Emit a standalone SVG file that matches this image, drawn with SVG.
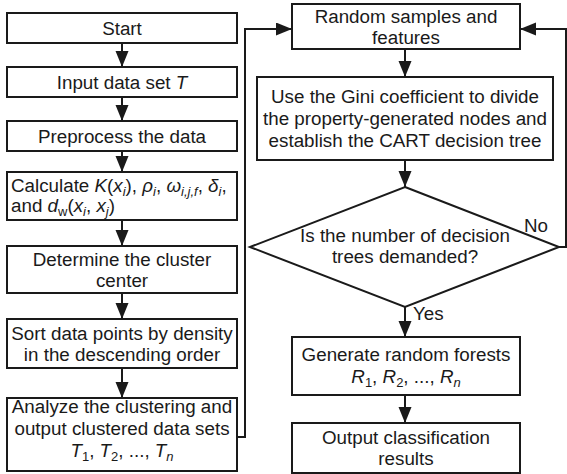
<svg xmlns="http://www.w3.org/2000/svg" width="567" height="474" viewBox="0 0 567 474">
<style>
.b{fill:#fff;stroke:#1a1a1a;stroke-width:2}
.t{font-family:"Liberation Sans",Arial,sans-serif;font-size:18.8px;fill:#1a1a1a;text-anchor:middle}
.l{text-anchor:start}
.i{font-style:italic}
.s{font-size:13px}
.c{fill:none;stroke:#1a1a1a;stroke-width:2}
</style>
<defs>
<marker id="a" markerUnits="userSpaceOnUse" markerWidth="17" markerHeight="14" refX="16" refY="6.5" orient="auto">
<path d="M0,0 L16,6.5 L0,13 z" fill="#1a1a1a"/>
</marker>
</defs>
<rect width="567" height="474" fill="#fff"/>
<g id="connectors">
<line class="c" x1="122" y1="43" x2="122" y2="67" marker-end="url(#a)"/>
<line class="c" x1="122" y1="97" x2="122" y2="121" marker-end="url(#a)"/>
<line class="c" x1="122" y1="151" x2="122" y2="172" marker-end="url(#a)"/>
<line class="c" x1="122" y1="220" x2="122" y2="246" marker-end="url(#a)"/>
<line class="c" x1="122" y1="293" x2="122" y2="319" marker-end="url(#a)"/>
<line class="c" x1="122" y1="368" x2="122" y2="398" marker-end="url(#a)"/>
<polyline class="c" points="237,437 245,437 245,29 292,29" marker-end="url(#a)"/>
<line class="c" x1="405" y1="49" x2="405" y2="77" marker-end="url(#a)"/>
<line class="c" x1="405" y1="160" x2="405" y2="187" marker-end="url(#a)"/>
<line class="c" x1="405" y1="307" x2="405" y2="337" marker-end="url(#a)"/>
<line class="c" x1="405" y1="395" x2="405" y2="423" marker-end="url(#a)"/>
<polyline class="c" points="559,247 566,247 566,29 520,29" marker-end="url(#a)"/>
<text class="t l" x="524" y="232">No</text>
<text class="t l" x="413" y="320">Yes</text>
</g>
<g id="start"><rect class="b" x="7" y="13" width="230" height="30"/><text class="t" x="122" y="34.5">Start</text></g>
<g id="input"><rect class="b" x="7" y="67" width="230" height="30"/><text class="t" x="122" y="88.5">Input data set <tspan class="i">T</tspan></text></g>
<g id="preprocess"><rect class="b" x="7" y="121" width="230" height="30"/><text class="t" x="122" y="142.5">Preprocess the data</text></g>
<g id="calculate"><rect class="b" x="7" y="172" width="230" height="48"/>
<text class="t l" x="11" y="192">Calculate <tspan class="i">K</tspan>(<tspan class="i">x</tspan><tspan class="i s" dy="4">i</tspan><tspan dy="-4">), </tspan><tspan class="i">ρ</tspan><tspan class="i s" dy="4">i</tspan><tspan dy="-4">, </tspan><tspan class="i">ω</tspan><tspan class="i s" dy="4">i,j,f</tspan><tspan dy="-4">, </tspan><tspan class="i">δ</tspan><tspan class="i s" dy="4">i</tspan><tspan dy="-4">,</tspan></text>
<text class="t l" x="11" y="212">and <tspan class="i">d</tspan><tspan class="s" dy="4">w</tspan><tspan dy="-4">(</tspan><tspan class="i">x</tspan><tspan class="i s" dy="4">i</tspan><tspan dy="-4">, </tspan><tspan class="i">x</tspan><tspan class="i s" dy="4">j</tspan><tspan dy="-4">)</tspan></text></g>
<g id="determine"><rect class="b" x="7" y="246" width="230" height="47"/><text class="t" x="122" y="265.5">Determine the cluster</text><text class="t" x="122" y="286.5">center</text></g>
<g id="sort"><rect class="b" x="7" y="319" width="230" height="49"/><text class="t" x="122" y="339.5">Sort data points by density</text><text class="t" x="122" y="360.5">in the descending order</text></g>
<g id="analyze"><rect class="b" x="7" y="398" width="230" height="73"/><text class="t" x="122" y="413">Analyze the clustering and</text><text class="t" x="122" y="435">output clustered data sets</text>
<text class="t" x="122" y="457"><tspan class="i">T</tspan><tspan class="s" dy="4">1</tspan><tspan dy="-4">, </tspan><tspan class="i">T</tspan><tspan class="s" dy="4">2</tspan><tspan dy="-4">, ..., </tspan><tspan class="i">T</tspan><tspan class="i s" dy="4">n</tspan></text></g>
<g id="random"><rect class="b" x="292" y="4" width="228" height="45"/><text class="t" x="406" y="22.5">Random samples and</text><text class="t" x="406" y="43.5">features</text></g>
<g id="gini"><rect class="b" x="257" y="77" width="296" height="83"/><text class="t" x="405" y="103">Use the Gini coefficient to divide</text><text class="t" x="405" y="125">the property-generated nodes and</text><text class="t" x="405" y="147">establish the CART decision tree</text></g>
<g id="decision"><polygon class="b" points="405,187 559,247 405,307 250,247"/><text class="t" x="405" y="242">Is the number of decision</text><text class="t" x="405" y="263">trees demanded?</text></g>
<g id="generate"><rect class="b" x="292" y="337" width="228" height="58"/><text class="t" x="406" y="361">Generate random forests</text>
<text class="t" x="406" y="383"><tspan class="i">R</tspan><tspan class="s" dy="4">1</tspan><tspan dy="-4">, </tspan><tspan class="i">R</tspan><tspan class="s" dy="4">2</tspan><tspan dy="-4">, ..., </tspan><tspan class="i">R</tspan><tspan class="i s" dy="4">n</tspan></text></g>
<g id="output"><rect class="b" x="292" y="423" width="228" height="50"/><text class="t" x="406" y="444">Output classification</text><text class="t" x="406" y="465">results</text></g>
</svg>
